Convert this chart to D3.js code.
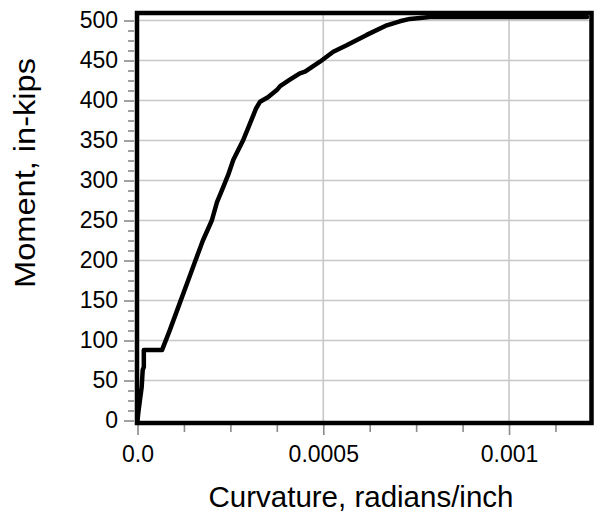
<!DOCTYPE html>
<html>
<head>
<meta charset="utf-8">
<script src="https://cdn.jsdelivr.net/npm/d3@7"></script>
<style>
  html, body { margin: 0; padding: 0; background: #fff; }
  svg { display: block; font-family: "Liberation Sans", Arial, sans-serif; }
</style>
</head>
<body>
<svg id="chart" width="599" height="512"></svg>
<script>
// Moment–curvature response of the section
const curvature = [0, 0.000002, 0.0000067, 0.0000113, 0.000014, 0.000017, 0.000017, 0.000066,
  0.000087, 0.000114, 0.000137, 0.000156, 0.000176, 0.0002, 0.000214, 0.000231, 0.000244,
  0.000258, 0.000285, 0.000307, 0.000319, 0.00033, 0.000351, 0.000375, 0.000384, 0.00041,
  0.000437, 0.000451, 0.000491, 0.000527, 0.000563, 0.000617, 0.000671, 0.000706, 0.000733,
  0.000787, 0.00121];
const moment = [0, 9, 26, 42, 63, 67, 88, 88,
  113, 147, 176, 200, 225, 250, 273, 292, 307,
  326, 351, 376, 390, 398.5, 404, 413, 418, 426,
  434, 436, 448.5, 461, 469, 482, 494, 499, 502,
  504.5, 504.5];

const yMajor = [0, 50, 100, 150, 200, 250, 300, 350, 400, 450, 500];
const yMinor = d3.range(0, 500.1, 12.5).filter(v => v % 50 !== 0);
const xMajor = [0, 0.0005, 0.001];
const xMajorLabels = ["0.0", "0.0005", "0.001"];
const xMinor = d3.range(0, 0.00122, 0.000125).filter(v => Math.abs(v % 0.0005) > 1e-9 && Math.abs(v % 0.0005 - 0.0005) > 1e-9);

const xTitle = "Curvature, radians/inch";
const yTitle = "Moment, in-kips";

const svg = d3.select("#chart");

const plot = { left: 137, right: 591.5, top: 13, bottom: 423 };

const x = d3.scaleLinear().domain([0, 0.001222]).range([137.5, 591.5]);
const y = d3.scaleLinear().domain([-3.125, 509.375]).range([423, 13]);

const tickColor = "#8a8a8a";
const gridColor = "#c8c8c8";

// grid
svg.append("g").selectAll("line.h").data(yMajor.filter(v => v > 0)).join("line")
  .attr("x1", plot.left).attr("x2", plot.right)
  .attr("y1", d => y(d)).attr("y2", d => y(d))
  .attr("stroke", gridColor).attr("stroke-width", 1.6);
svg.append("g").selectAll("line.v").data(xMajor.filter(v => v > 0)).join("line")
  .attr("y1", plot.top).attr("y2", plot.bottom)
  .attr("x1", d => x(d)).attr("x2", d => x(d))
  .attr("stroke", gridColor).attr("stroke-width", 1.6);

// axes
const yAxis = svg.append("g").attr("transform", "translate(134,0)")
  .call(d3.axisLeft(y).tickValues(yMajor).tickSize(10).tickPadding(6));
const yAxisMinor = svg.append("g").attr("transform", "translate(134,0)")
  .call(d3.axisLeft(y).tickValues(yMinor).tickSize(6).tickFormat(""));
const xAxis = svg.append("g").attr("transform", "translate(0,425)")
  .call(d3.axisBottom(x).tickValues(xMajor).tickSize(10).tickPadding(11)
    .tickFormat((d, i) => xMajorLabels[i]));
const xAxisMinor = svg.append("g").attr("transform", "translate(0,425)")
  .call(d3.axisBottom(x).tickValues(xMinor).tickSize(7).tickFormat(""));

[yAxis, yAxisMinor, xAxis, xAxisMinor].forEach(g => {
  g.select(".domain").remove();
  g.selectAll(".tick line").attr("stroke", tickColor).attr("stroke-width", 1.6);
  g.selectAll(".tick text").attr("fill", "#000")
    .style("font-size", "23px").style("font-family", "'Liberation Sans', Arial, sans-serif");
});

// curve
const line = d3.line().x((d, i) => x(curvature[i])).y(d => y(d));
svg.append("path")
  .datum(moment)
  .attr("d", line)
  .attr("fill", "none")
  .attr("stroke", "#000")
  .attr("stroke-width", 4.5)
  .attr("stroke-linejoin", "round")
  .attr("stroke-linecap", "round");

// frame
svg.append("rect")
  .attr("x", plot.left).attr("y", plot.top)
  .attr("width", plot.right - plot.left).attr("height", plot.bottom - plot.top)
  .attr("fill", "none").attr("stroke", "#000").attr("stroke-width", 4.5);

// titles
svg.append("text")
  .attr("x", 361).attr("y", 506.5)
  .attr("text-anchor", "middle")
  .style("font-size", "29.5px")
  .text(xTitle);
svg.append("text")
  .attr("transform", "translate(35,173) rotate(-90)")
  .attr("text-anchor", "middle")
  .attr("textLength", 230)
  .attr("lengthAdjust", "spacingAndGlyphs")
  .style("font-size", "29.5px")
  .text(yTitle);
</script>
</body>
</html>
